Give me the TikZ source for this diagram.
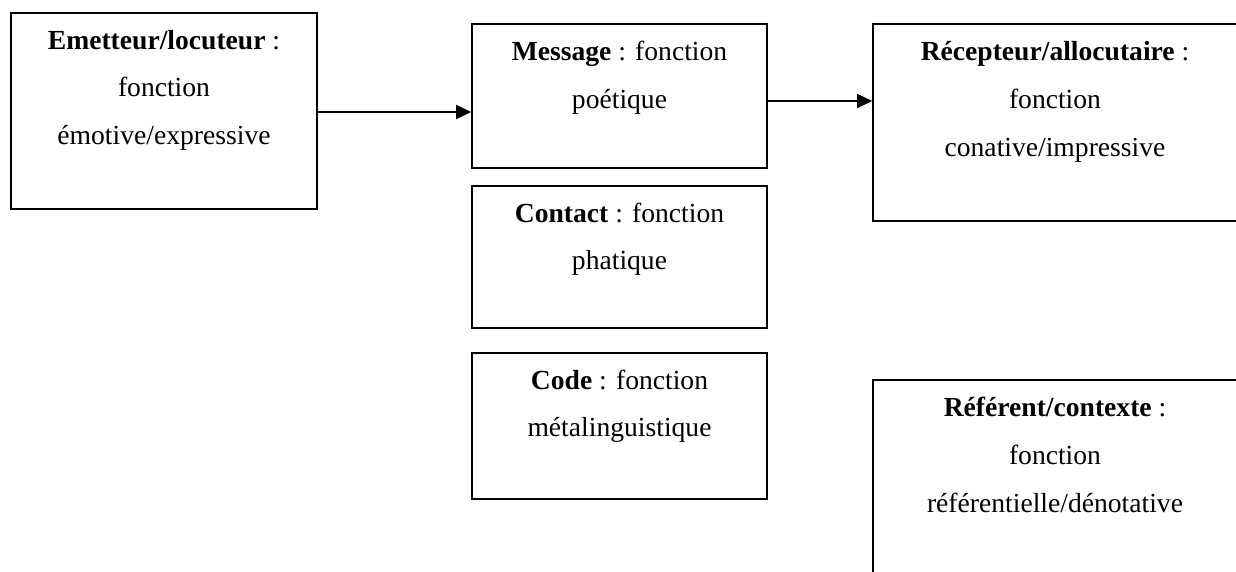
\documentclass[tikz,border=0pt]{standalone}
\usepackage{fontspec}
\setmainfont{Liberation Serif}
\usetikzlibrary{arrows.meta}
\begin{document}
\begin{tikzpicture}[x=1bp,y=-1bp,
  box/.style={draw=black,line width=1.6bp,rectangle,inner sep=0pt,minimum width=295bp},
  txt/.style={anchor=base,inner sep=0pt,font=\fontsize{27.6bp}{47.5bp}\selectfont},
  conn/.style={line width=1.6bp,-{Triangle[length=15bp,width=14bp]}}]
\useasboundingbox (0,0) rectangle (1236,572);
\clip (0,0) rectangle (1236,572);
% boxes
\node[box,minimum width=306bp,minimum height=196bp] (emet) at (164,111) {};
\node[box,minimum height=144bp] (msg) at (619.5,96) {};
\node[box,minimum height=142bp] (cont) at (619.5,257) {};
\node[box,minimum height=146bp] (code) at (619.5,426) {};
\node[box,minimum width=364bp,minimum height=197bp] (rec) at (1055,122.5) {};
\node[box,minimum width=364bp,minimum height=220bp] (ref) at (1055,490) {};
% texts
\node[txt] (emet1) at ([yshift=-37bp]emet.north) {\textbf{Emetteur/locuteur} :};
\node[txt] (emet2) at ([yshift=-84bp]emet.north) {fonction};
\node[txt] (emet3) at ([yshift=-132bp]emet.north) {émotive/expressive};
\node[txt] (msg1) at ([yshift=-37bp]msg.north) {\textbf{Message} : fonction};
\node[txt] (msg2) at ([yshift=-85bp]msg.north) {poétique};
\node[txt] (cont1) at ([yshift=-37bp]cont.north) {\textbf{Contact} : fonction};
\node[txt] (cont2) at ([yshift=-84bp]cont.north) {phatique};
\node[txt] (code1) at ([yshift=-37bp]code.north) {\textbf{Code} : fonction};
\node[txt] (code2) at ([yshift=-84bp]code.north) {métalinguistique};
\node[txt] (rec1) at ([yshift=-37bp]rec.north) {\textbf{Récepteur/allocutaire} :};
\node[txt] (rec2) at ([yshift=-85bp]rec.north) {fonction};
\node[txt] (rec3) at ([yshift=-133bp]rec.north) {conative/impressive};
\node[txt] (ref1) at ([yshift=-37bp]ref.north) {\textbf{Référent/contexte} :};
\node[txt] (ref2) at ([yshift=-85bp]ref.north) {fonction};
\node[txt] (ref3) at ([yshift=-133bp]ref.north) {référentielle/dénotative};
% connectors
\draw[conn] ([yshift=-1bp]emet.east) -- ([yshift=-1bp]emet.east -| msg.west);
\draw[conn] ([yshift=-5bp]msg.east) -- ([yshift=-5bp]msg.east -| rec.west);
\end{tikzpicture}
\end{document}
